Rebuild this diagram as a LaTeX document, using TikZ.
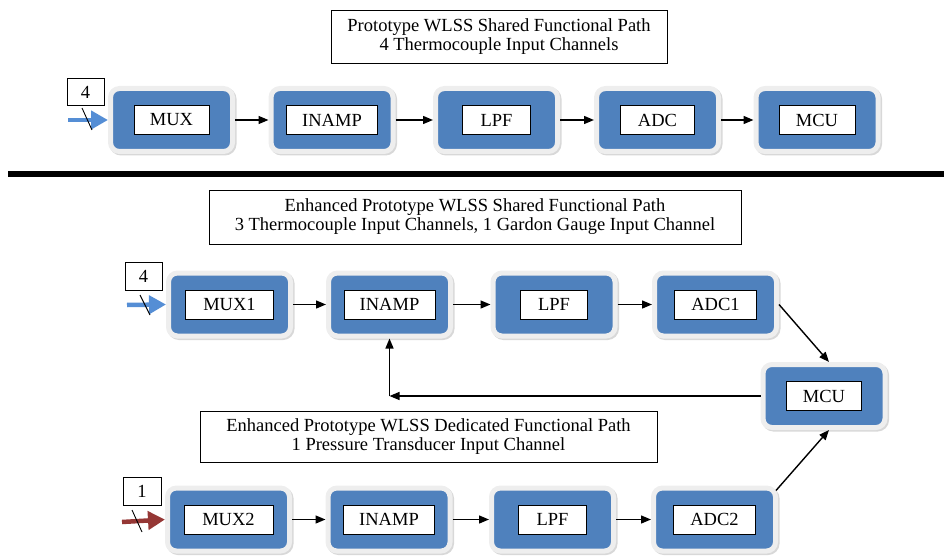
\documentclass[tikz,border=0pt]{standalone}
\usepackage{fontspec}
\setmainfont{Liberation Serif}
\usepackage{tikz}
\usetikzlibrary{calc, positioning, arrows.meta, shadows}
\usepackage{xcolor}
\definecolor{blockBlue}{RGB}{79, 129, 189}
\definecolor{haloGray}{RGB}{238, 238, 238}
\definecolor{inBlue}{RGB}{85, 142, 213}
\definecolor{inRed}{RGB}{149, 55, 53}

\begin{document}
\begin{tikzpicture}[x=1pt, y=-1pt, font=\fontsize{18.5}{19}\selectfont,
    blk/.style={fill=blockBlue, draw=haloGray, line width=5pt, rounded corners=9pt,
      minimum width=122, minimum height=63,
      drop shadow={shadow xshift=1.5pt, shadow yshift=-1.5pt, fill=gray!60, draw=gray!60, line width=5pt}},
    lbl/.style={draw=black, fill=white, line width=1pt, minimum height=29, inner sep=0pt},
    title/.style={draw=black, line width=0.8pt, align=center, inner sep=0pt},
    chbox/.style={draw=black, line width=0.8pt, inner sep=0pt},
    conn/.style={line width=1.4pt, -{Triangle[length=10pt, width=8pt]}},
    inarrow/.style={line width=4.5pt, -{Triangle[length=17pt, width=18pt]}},
    slash/.style={line width=0.9pt}]
  \useasboundingbox (0,0) rectangle (944,556);

  % Prototype shared path (top)
  \node[title, minimum width=336, minimum height=53] (ttlp) at (499,36.5)
    {Prototype WLSS Shared Functional Path\\4 Thermocouple Input Channels};
  \foreach \nm/\x/\w/\t in {pmux/171.5/75/MUX, pinamp/332/91/INAMP, plpf/496.5/68/LPF,
                            padc/657.5/74/ADC, pmcu/817/76/MCU} {
    \node[blk] (\nm) at (\x,120) {};
    \node[lbl, minimum width=\w] (\nm-t) at (\nm) {\t};
  }
  \foreach \a/\b in {pmux/pinamp, pinamp/plpf, plpf/padc, padc/pmcu}
    \draw[conn] (\a) -- (\b);
  \node[chbox, minimum width=37, minimum height=27] (pn) at (85.5,92) {4};
  \coordinate (pin) at (68,120);
  \draw[inarrow, inBlue] (pin) -- (pmux.west);
  \draw[slash] ($(pin)+(14,-12)$) -- ++(10,22);

  % Separator
  \draw[line width=6pt] (8,174) -- (944,174);

  % Enhanced shared path (middle)
  \node[title, minimum width=532, minimum height=54] (ttls) at (475,217)
    {Enhanced Prototype WLSS Shared Functional Path\\3 Thermocouple Input Channels, 1 Gardon Gauge Input Channel};
  \foreach \nm/\x/\w/\t in {smux/229.5/88/MUX1, sinamp/389.5/91/INAMP, slpf/554/67/LPF,
                            sadc/715.5/82/ADC1} {
    \node[blk] (\nm) at (\x,304.5) {};
    \node[lbl, minimum width=\w] (\nm-t) at (\nm) {\t};
  }
  \foreach \a/\b in {smux/sinamp, sinamp/slpf, slpf/sadc}
    \draw[conn] (\a) -- (\b);
  \node[chbox, minimum width=37, minimum height=28] (sn) at (143.5,276) {4};
  \coordinate (sin) at (127,305);
  \draw[inarrow, inBlue] (sin) -- (smux.west);
  \draw[slash] ($(sin)+(13,-10)$) -- ++(10,20);

  % Shared MCU with feedback to INAMP
  \node[blk] (mcu) at (824,396) {};
  \node[lbl, minimum width=75] (mcu-t) at (mcu) {MCU};
  \draw[conn] (sadc.east) -- ([xshift=5pt]mcu.north);
  \coordinate (fb) at (sinamp.south |- mcu.west);
  \draw[conn] (mcu.west) -- (fb);
  \draw[conn] (fb) -- (sinamp.south);

  % Enhanced dedicated path (bottom)
  \node[title, minimum width=457, minimum height=51] (ttld) at (428.5,436.5)
    {Enhanced Prototype WLSS Dedicated Functional Path\\1 Pressure Transducer Input Channel};
  \foreach \nm/\x/\w/\t in {dmux/228.5/89/MUX2, dinamp/389/91/INAMP, dlpf/552.5/68/LPF,
                            dadc/714.5/82/ADC2} {
    \node[blk] (\nm) at (\x,519.5) {};
    \node[lbl, minimum width=\w] (\nm-t) at (\nm) {\t};
  }
  \foreach \a/\b in {dmux/dinamp, dinamp/dlpf, dlpf/dadc}
    \draw[conn] (\a) -- (\b);
  \draw[conn] ($(dadc.north east)+(-2,5)$) -- ([xshift=5pt]mcu.south);
  \node[chbox, minimum width=38, minimum height=28] (dn) at (142,491) {1};
  \coordinate (din) at (122,522);
  \draw[inarrow, inRed] (din) -- (dmux.west);
  \draw[slash] ($(din)+(10,-12)$) -- ++(10,22);
\end{tikzpicture}
\end{document}
